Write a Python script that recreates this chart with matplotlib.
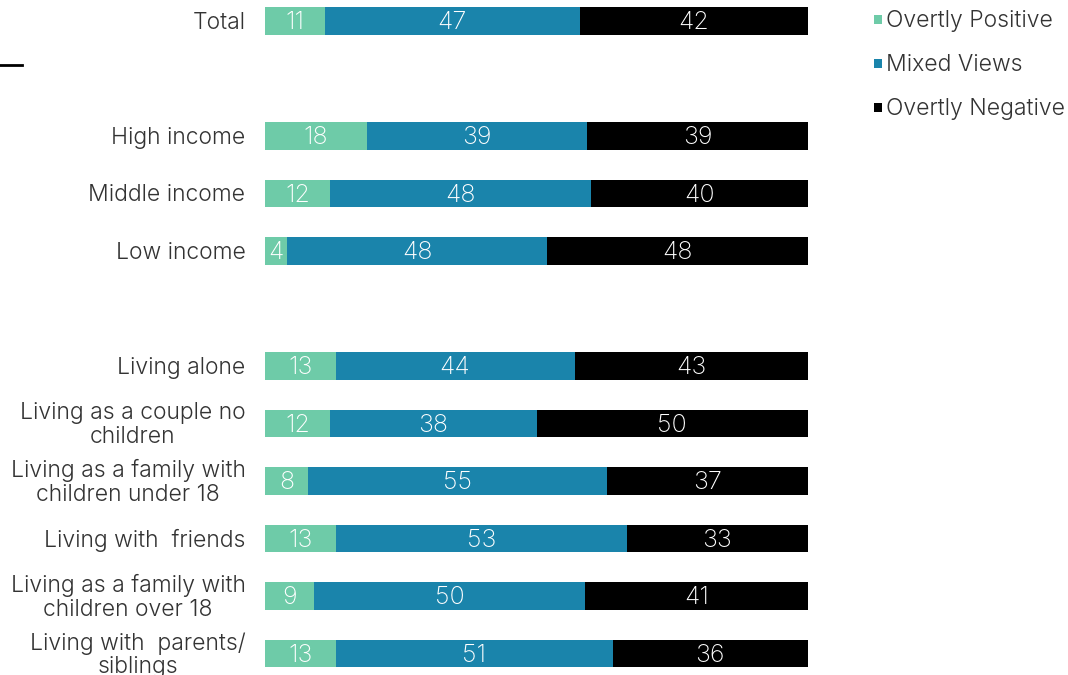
import matplotlib
matplotlib.use("Agg")
import matplotlib.pyplot as plt
from matplotlib.patches import Rectangle
from matplotlib.lines import Line2D
import numpy as np

plt.rcParams['font.family'] = ['Inter', 'DejaVu Sans']

categories = ["Total", "High income", "Middle income", "Low income",
              "Living alone", "Living as a couple no\nchildren",
              "Living as a family with\nchildren under 18", "Living with  friends",
              "Living as a family with\nchildren over 18", "Living with  parents/\nsiblings"]
slots = [0, 2, 3, 4, 6, 7, 8, 9, 10, 11]

series_names = ["Overtly Positive", "Mixed Views", "Overtly Negative"]
positive = [11, 18, 12, 4, 13, 12, 8, 13, 9, 13]
mixed = [47, 39, 48, 48, 44, 38, 55, 53, 50, 51]
negative = [42, 39, 40, 48, 43, 50, 37, 33, 41, 36]
colors = ["#6ECBA8", "#1A84AB", "#000000"]

W, H = 1068, 675
fig = plt.figure(figsize=(W / 100, H / 100), dpi=100)
ax = fig.add_axes([265 / W, 0, 543 / W, 1])

values = np.array([positive, mixed, negative], dtype=float)
totals = values.sum(axis=0)
shares = values / totals * 100

left = np.zeros(len(categories))
for i, name in enumerate(series_names):
    ax.barh(slots, shares[i], left=left, height=0.47, color=colors[i],
            edgecolor="none", label=name)
    for y, l, s, v in zip(slots, left, shares[i], values[i]):
        ax.text(l + s / 2, y + 0.03, f"{int(v)}", ha="center", va="center",
                color="white", fontsize=18, fontweight=200)
    left += shares[i]

ax.set_xlim(0, 100)
ax.set_ylim(11.374, -0.365)
ax.axis("off")

for y, lab in zip(slots, categories):
    ax.text(-3.6, y + 0.03, lab, ha="right", va="center", multialignment="center",
            color="#333333", fontsize=16.5, fontweight=300,
            transform=ax.transData, linespacing=1.1)

# separator stroke at the left edge
fig.add_artist(Line2D([0, 22 / W], [1 - 65 / H, 1 - 65 / H], color="black", lw=2))

# legend
for i, name in enumerate(series_names):
    yc = 20 + 44 * i
    fig.add_artist(Rectangle((874 / W, 1 - (yc + 4) / H), 8 / W, 9 / H,
                             facecolor=colors[i], edgecolor="none"))
    fig.text(886 / W, 1 - (yc + 1) / H, name, ha="left", va="center",
             color="#333333", fontsize=16.5, fontweight=300)

fig.savefig("out.png", dpi=100)
